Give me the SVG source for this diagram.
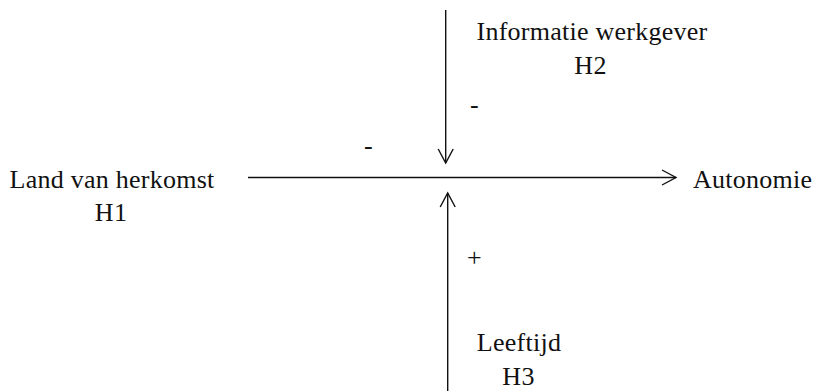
<svg xmlns="http://www.w3.org/2000/svg" width="814" height="391" viewBox="0 0 814 391">
<style>
.t { fill: #111; letter-spacing: 0.25px; }
.c { text-anchor: middle; }
.edge { stroke: #111; stroke-width: 1.4; fill: none; }
</style>
<defs>
<marker id="arr" viewBox="-16 -10 18 20" refX="0" refY="0" markerWidth="18" markerHeight="20" markerUnits="userSpaceOnUse" orient="auto">
<path d="M-14,-7.5 L0,0 L-14,7.5" fill="none" stroke="#111" stroke-width="1.4"/>
</marker>
</defs>
<rect width="814" height="391" fill="#fff"/>
<g id="connectors">
<path class="edge" d="M445.7,10 L445.7,163" marker-end="url(#arr)"/>
<path class="edge" d="M447.7,391 L447.7,193" marker-end="url(#arr)"/>
<path class="edge" d="M248,177.5 L676,177.5" marker-end="url(#arr)"/>
<text class="t c" font-family="Liberation Serif, serif" font-size="26" x="368.5" y="154">-</text>
<text class="t c" font-family="Liberation Serif, serif" font-size="26" x="474.5" y="113">-</text>
<text class="t c" font-family="Liberation Serif, serif" font-size="26" x="474.5" y="266">+</text>
</g>
<g id="land">
<text class="t c" font-family="Liberation Serif, serif" font-size="26" x="112" y="188">Land van herkomst</text>
<text class="t c" font-family="Liberation Serif, serif" font-size="26" x="111" y="221">H1</text>
</g>
<g id="informatie">
<text class="t c" font-family="Liberation Serif, serif" font-size="26" x="592" y="40">Informatie werkgever</text>
<text class="t c" font-family="Liberation Serif, serif" font-size="26" x="590.5" y="74">H2</text>
</g>
<g id="leeftijd">
<text class="t c" font-family="Liberation Serif, serif" font-size="26" x="519" y="351">Leeftijd</text>
<text class="t c" font-family="Liberation Serif, serif" font-size="26" x="518.5" y="385">H3</text>
</g>
<g id="autonomie">
<text class="t" font-family="Liberation Serif, serif" font-size="26" x="693" y="188">Autonomie</text>
</g>
</svg>
